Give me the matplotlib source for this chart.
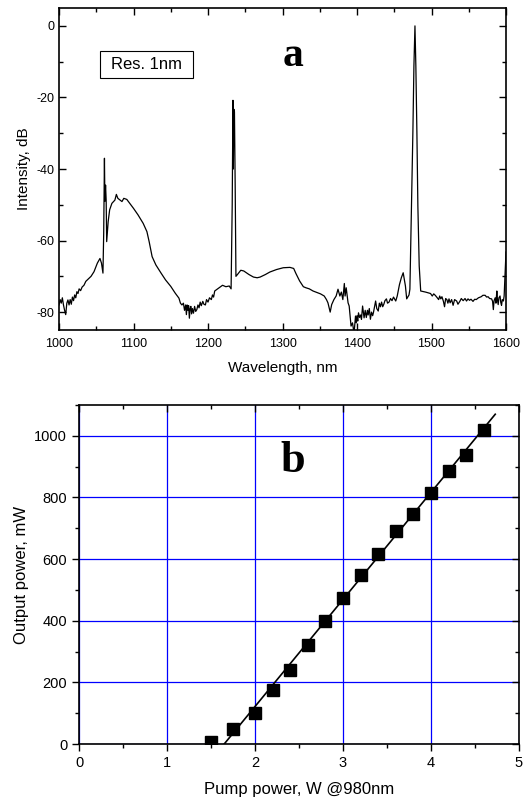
import matplotlib
matplotlib.use("Agg")
import matplotlib.pyplot as plt
from matplotlib.ticker import MultipleLocator
from matplotlib.patches import Rectangle

plt.rcParams['font.family'] = ['Liberation Sans', 'DejaVu Sans']
plt.rcParams['axes.unicode_minus'] = False

# ---------------- Panel a: spectrum ----------------
wavelength_nm = [
    1000, 1001.5, 1003, 1004.5, 1006, 1007.5, 1009, 1010.5, 1012, 1013.5, 1015, 1016.5, 1018, 1019.5,
    1021, 1022.5, 1024, 1025.5, 1027, 1029, 1031, 1033.5, 1036, 1043, 1047, 1051.5, 1055,
    1057, 1059, 1060, 1061, 1061.6, 1062.5, 1063.3, 1064, 1066, 1068, 1071, 1075, 1077, 1079,
    1082, 1084.5, 1087, 1091, 1095, 1100, 1106, 1113, 1118, 1121, 1125, 1130, 1137, 1143, 1150,
    1156, 1161, 1163, 1165, 1167, 1168.5, 1170, 1171, 1172, 1173, 1174, 1175, 1176, 1177, 1178, 1179,
    1180.5, 1182, 1183.5, 1185, 1186.5, 1188, 1189.5, 1191, 1193, 1194.5, 1196.5, 1198, 1200, 1202,
    1204.5, 1206, 1207.5, 1209, 1215, 1219.5, 1224, 1228.5, 1231, 1232.5, 1233.5, 1234, 1234.7, 1235.5,
    1236.5, 1237.5, 1239.5, 1244, 1248, 1255, 1261, 1266, 1270, 1277, 1283, 1292, 1301, 1310,
    1315, 1318, 1323, 1328, 1331.5, 1336, 1341, 1347, 1351, 1356, 1359, 1361, 1364, 1366, 1369,
    1372, 1374.5, 1377, 1379, 1381, 1383, 1384, 1385.5, 1388, 1389.5, 1392, 1394, 1396, 1398,
    1399, 1400, 1401, 1402, 1403.5, 1405, 1406, 1407.5, 1409.5, 1411, 1412.5, 1414, 1415, 1416.5,
    1418, 1419.5, 1421, 1422, 1423.5, 1425, 1426.5, 1428.5, 1430, 1431.5, 1433, 1434.5, 1436, 1437.5,
    1439.5, 1441, 1443, 1445, 1447, 1449, 1452, 1454, 1457, 1459.5, 1462, 1465, 1466.7, 1469.8,
    1471, 1473.3, 1475, 1476.4, 1477.8, 1479, 1480.4, 1481.7, 1483.5, 1485.5, 1492, 1498.7,
    1501, 1503, 1505, 1507, 1509.6, 1511, 1512.5, 1514, 1516, 1517.5, 1519, 1520.6, 1522, 1523.5,
    1525, 1527, 1529, 1531, 1533.8, 1535.5, 1538, 1540, 1542.5, 1545, 1547, 1549, 1551, 1553,
    1555.7, 1558, 1560, 1563, 1566.7, 1569, 1572, 1574, 1576, 1578, 1580.7, 1582, 1583, 1584,
    1585.5, 1586.5, 1587.7, 1588.5, 1589.5, 1590.5, 1592, 1593, 1594, 1595, 1596.5, 1597.5,
    1598.7, 1600]
intensity_db = [
    -78, -76.5, -77.5, -76, -78, -79.5, -80.7, -77.5, -76.6, -78, -76.5, -77.8, -75.8, -76.8,
    -75.2, -76, -74.3, -74.8, -73.5, -74, -73, -72.5, -71.4, -70, -68.7, -66.3, -65,
    -66.3, -69.1, -58, -37, -49, -44.5, -48.7, -60.3, -54.7, -51.4, -49.6, -48.7, -47.1, -48.2,
    -48.7, -49.1, -48.2, -48.5, -49.6, -51, -52.8, -55.2, -57.5, -60.3, -64.5, -66.8, -69.1, -71, -72.8,
    -74.7, -76.1, -77.5, -78, -77.5, -79.5, -78, -80.7, -78, -79.5, -78.2, -81.7, -79, -78.4, -80.5, -79,
    -80.3, -78.4, -79.8, -79.3, -78, -78.8, -77.2, -78.2, -77, -77.8, -78, -76.5, -77.2, -76,
    -76.5, -75.2, -75.8, -74.1, -73.2, -72.5, -72.9, -72.7, -73.5, -50, -20.8, -40, -23.3, -24,
    -45, -70, -69.5, -68.3, -68.5, -69.5, -70.2, -70.4, -70.2, -69.5, -68.8, -68.1, -67.6, -67.5,
    -67.8, -69.2, -71.3, -72.9, -73.2, -73.5, -74.1, -74.6, -74.9, -75.5, -76.5, -77.4, -80, -77.9, -76.5,
    -75.5, -73.6, -75.5, -74.4, -76.5, -72, -75.5, -73.2, -77.4, -78.3, -83.9, -83, -86, -81.1,
    -83, -81, -82.5, -80.2, -81.5, -80.8, -82, -78.3, -81.6, -79.5, -81.5, -79.5, -80.8, -79,
    -82, -80, -81, -80.2, -78.5, -76.9, -79, -79.7, -77.5, -78.5, -77.2, -78.5, -77.8, -76.8,
    -76.3, -77.5, -77.2, -76.2, -76.8, -75.8, -76.9, -75.5, -72.3, -70.4, -69, -72.7, -76.3, -75.2,
    -73.6, -48.5, -29.8, -11.2, 0, -11.2, -29.8, -50.3, -67.1, -74.1, -74.4, -74.8,
    -75.5, -74.9, -75.3, -75.8, -76.5, -75.5, -76.3, -75.7, -77, -78.5, -76.2, -76.5, -77.5, -76.3,
    -77.4, -76.5, -78.1, -76.5, -76.9, -77.8, -77, -76.2, -76.8, -76.2, -76.9, -76.3, -76.7, -76.4,
    -77, -76.4, -76.5, -76, -75.7, -75.3, -75.3, -75.8, -75.7, -76.2, -76.3, -77, -79.3, -76.8,
    -76, -77.5, -74.1, -76.5, -77.9, -76, -75.5, -77.3, -78.1, -76.5, -76.9, -75.5,
    -69.8, -63.2]
assert len(wavelength_nm) == len(intensity_db)

# ---------------- Panel b: output vs pump ----------------
pump_w = [1.5, 1.75, 2.0, 2.2, 2.4, 2.6, 2.8, 3.0, 3.2, 3.4, 3.6, 3.8, 4.0, 4.2, 4.4, 4.6]
output_mw = [8, 48, 100, 175, 240, 320, 400, 475, 550, 615, 690, 745, 815, 885, 938, 1018]
fit_pump_w = [1.65, 4.73]
fit_output_mw = [0, 1070]

fig = plt.figure(figsize=(5.32, 8.02), dpi=100)

# ---- Panel a ----
pos_a = [59/532, 1-330/802, (506-59)/532, (330-8)/802]
axa = fig.add_axes(pos_a)
axa.plot(wavelength_nm, intensity_db, color='black', lw=0.9)
axa.set_xlim(1000, 1600)
axa.set_ylim(-85, 5)
axa.xaxis.set_major_locator(MultipleLocator(100))
axa.xaxis.set_minor_locator(MultipleLocator(50))
axa.yaxis.set_major_locator(MultipleLocator(20))
axa.yaxis.set_minor_locator(MultipleLocator(10))
axa.tick_params(which='both', direction='in', top=True, right=True, labelsize=9)
axa.tick_params(which='major', length=5, width=1)
axa.tick_params(which='minor', length=3, width=1)
axa.tick_params(axis='x', pad=6)
for s in axa.spines.values():
    s.set_linewidth(1.2)
axa.set_xlabel('Wavelength, nm', fontsize=11, labelpad=8)
axa.set_ylabel('Intensity, dB', fontsize=11, labelpad=4)
axa.text(1314, -8.5, 'a', fontsize=30, fontweight='bold', family='Liberation Serif',
         ha='center', va='center')
axa.add_patch(Rectangle((1055, -14.6), 125, 7.5, fill=False, ec='black', lw=0.8, zorder=5))
axa.text(1117.5, -10.9, 'Res. 1nm', fontsize=12, ha='center', va='center', zorder=6)

# ---- Panel b ----
pos_b = [79/532, 1-744/802, (519-79)/532, (744-405)/802]
axb = fig.add_axes(pos_b)
axb.grid(True, which='major', color='blue', lw=0.9)
axb.set_axisbelow(True)
axb.plot(fit_pump_w, fit_output_mw, color='black', lw=1.2, zorder=3)
axb.plot(pump_w, output_mw, ls='none', marker='s', ms=8.5, color='black', zorder=4)
axb.set_xlim(0, 5)
axb.set_ylim(0, 1100)
axb.xaxis.set_major_locator(MultipleLocator(1))
axb.xaxis.set_minor_locator(MultipleLocator(0.5))
axb.yaxis.set_major_locator(MultipleLocator(200))
axb.yaxis.set_minor_locator(MultipleLocator(100))
axb.tick_params(which='both', direction='out', labelsize=10.5)
axb.tick_params(which='major', length=5, width=1)
axb.tick_params(which='minor', length=3, width=1)
for s in axb.spines.values():
    s.set_linewidth(1.2)
axb.set_xlabel('Pump power, W @980nm', fontsize=12, labelpad=9)
axb.set_ylabel('Output power, mW', fontsize=12, labelpad=4)
axb.text(2.43, 918, 'b', fontsize=32, fontweight='bold', family='Liberation Serif',
         ha='center', va='center')

# overlay axes for inward top/right ticks of panel b
axt = fig.add_axes(pos_b, frameon=False)
axt.patch.set_visible(False)
axt.set_xlim(axb.get_xlim())
axt.set_ylim(axb.get_ylim())
axt.xaxis.set_major_locator(MultipleLocator(1))
axt.xaxis.set_minor_locator(MultipleLocator(0.5))
axt.yaxis.set_major_locator(MultipleLocator(200))
axt.yaxis.set_minor_locator(MultipleLocator(100))
axt.tick_params(which='both', direction='in', bottom=False, left=False, top=True, right=True,
                labelbottom=False, labelleft=False, labeltop=False, labelright=False)
axt.tick_params(which='major', length=5, width=1)
axt.tick_params(which='minor', length=3, width=1)

fig.savefig('out.png', dpi=100)
